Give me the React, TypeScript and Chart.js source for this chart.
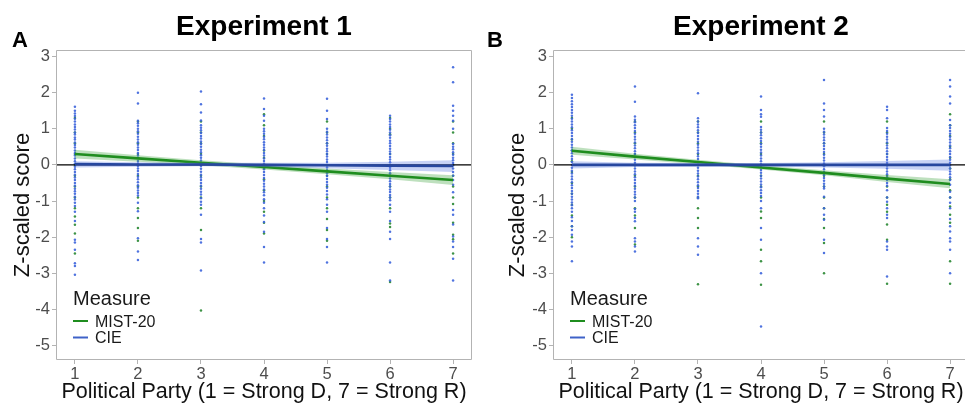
import React, { useEffect, useRef } from "react";
import { Chart, registerables } from "chart.js";

Chart.register(...registerables);

// ---------- data ----------
const xTicks = [1, 2, 3, 4, 5, 6, 7];
const yTicks = [-5, -4, -3, -2, -1, 0, 1, 2, 3];
const xLimits = [0.7, 7.3];
const yLimits = [-5.4, 3.18];
const titles = ["Experiment 1", "Experiment 2"];
const panelLetters = ["A", "B"];
const xAxisTitle = "Political Party (1 = Strong D, 7 = Strong R)";
const yAxisTitle = "Z-scaled score";
const legendTitle = "Measure";
const seriesNames = ["MIST-20", "CIE"];

// Experiment 1 - CIE points per party level (1..7)
const cieExp1 = [
  [1.61, 1.5, 1.42, 1.35, 1.28, 1.2, 1.12, 1.05, 0.98, 0.9, 0.84, 0.76, 0.7, 0.62, 0.55, 0.48, 0.4, 0.33, 0.26, 0.18, 0.1, 0.03, -0.05, -0.12, -0.2, -0.27, -0.35, -0.42, -0.5, -0.58, -0.66, -0.73, -0.8, -0.88, -0.96, -1.05, -1.14, -1.3, -1.55, -2.07, -2.15, -2.35, -2.72, -2.8, -3.04],
  [2.0, 1.7, 1.22, 1.15, 1.08, 1.0, 0.93, 0.86, 0.78, 0.7, 0.63, 0.56, 0.48, 0.41, 0.33, 0.26, 0.19, 0.11, 0.04, -0.03, -0.1, -0.17, -0.25, -0.33, -0.4, -0.48, -0.56, -0.63, -0.71, -0.78, -0.85, -1.05, -1.28, -2.03, -2.4, -2.63],
  [2.03, 1.68, 1.45, 1.23, 1.1, 1.03, 0.96, 0.88, 0.8, 0.73, 0.65, 0.58, 0.5, 0.42, 0.35, 0.27, 0.2, 0.12, 0.05, -0.03, -0.11, -0.19, -0.27, -0.35, -0.42, -0.5, -0.58, -0.66, -0.74, -0.82, -0.92, -1.02, -1.1, -1.38, -2.05, -2.15, -2.92],
  [1.84, 1.55, 1.36, 1.22, 1.0, 0.93, 0.86, 0.78, 0.71, 0.63, 0.56, 0.48, 0.41, 0.33, 0.26, 0.18, 0.11, 0.03, -0.04, -0.12, -0.2, -0.28, -0.36, -0.44, -0.52, -0.6, -0.68, -0.76, -0.84, -0.95, -1.05, -1.2, -1.4, -1.58, -1.85, -2.27, -2.7],
  [1.83, 1.5, 1.27, 1.0, 0.92, 0.84, 0.76, 0.68, 0.6, 0.53, 0.45, 0.38, 0.3, 0.23, 0.15, 0.08, 0.0, -0.07, -0.15, -0.23, -0.31, -0.39, -0.47, -0.55, -0.63, -0.72, -0.82, -0.95, -1.1, -1.3, -1.75, -2.05, -2.27, -2.7],
  [1.36, 1.27, 1.2, 1.12, 1.05, 0.97, 0.9, 0.82, 0.75, 0.67, 0.6, 0.52, 0.45, 0.37, 0.3, 0.22, 0.15, 0.07, 0.0, -0.08, -0.15, -0.23, -0.3, -0.38, -0.45, -0.53, -0.6, -0.68, -0.75, -0.83, -0.9, -0.98, -1.1, -1.3, -1.55, -1.85, -2.05, -2.7, -3.2],
  [2.7, 2.29, 1.64, 1.5, 1.36, 1.22, 1.0, 0.58, 0.5, 0.43, 0.35, 0.28, 0.2, 0.13, 0.05, -0.02, -0.1, -0.2, -0.3, -0.42, -0.55, -0.76, -1.25, -1.38, -1.65, -1.98, -2.12, -2.27, -2.6, -3.2],
];
// Experiment 1 - MIST-20 points
const mistExp1 = [
  [1.3, 0.9, 0.6, 0.3, 0.0, -0.3, -0.6, -0.9, -1.2, -1.43, -1.66, -1.9, -2.45],
  [1.2, 0.9, 0.6, 0.3, 0.0, -0.3, -0.6, -0.9, -1.2, -1.47, -1.75, -2.1],
  [1.2, 0.9, 0.6, 0.3, 0.0, -0.3, -0.6, -0.9, -1.2, -1.8, -4.03],
  [1.4, 1.1, 0.8, 0.4, 0.2, -0.1, -0.4, -0.7, -1.0, -1.3, -1.6, -1.9],
  [1.2, 0.9, 0.6, 0.3, 0.0, -0.3, -0.6, -0.9, -1.2, -1.5, -1.8, -2.1],
  [1.3, 1.0, 0.85, 0.3, 0.0, -0.3, -0.6, -0.9, -1.2, -1.62, -1.72, -3.24],
  [1.2, 0.9, 0.6, 0.3, 0.0, -0.3, -0.6, -0.9, -1.08, -1.6, -1.93, -2.06, -2.45],
];
// Experiment 2 - CIE points
const cieExp2 = [
  [1.94, 1.85, 1.76, 1.68, 1.6, 1.52, 1.44, 1.36, 1.28, 1.2, 1.12, 1.04, 0.96, 0.88, 0.8, 0.72, 0.64, 0.56, 0.48, 0.4, 0.32, 0.24, 0.16, 0.08, 0.0, -0.08, -0.16, -0.24, -0.32, -0.4, -0.48, -0.56, -0.64, -0.72, -0.8, -0.88, -0.96, -1.04, -1.12, -1.2, -1.3, -1.45, -1.55, -1.7, -1.8, -1.93, -2.12, -2.26, -2.67],
  [2.17, 1.75, 1.34, 1.25, 1.18, 1.1, 1.02, 0.94, 0.86, 0.78, 0.7, 0.62, 0.54, 0.46, 0.38, 0.3, 0.22, 0.14, 0.06, -0.02, -0.1, -0.18, -0.26, -0.34, -0.42, -0.5, -0.58, -0.66, -0.74, -0.82, -0.9, -1.0, -1.22, -1.3, -1.47, -1.56, -2.03, -2.12, -2.26, -2.4],
  [1.98, 1.29, 1.2, 1.12, 1.04, 0.96, 0.88, 0.8, 0.72, 0.64, 0.56, 0.48, 0.4, 0.32, 0.24, 0.16, 0.08, 0.0, -0.08, -0.16, -0.24, -0.32, -0.4, -0.48, -0.56, -0.64, -0.72, -0.8, -0.88, -0.92, -2.03, -2.26, -2.49],
  [1.89, 1.52, 1.4, 1.33, 1.05, 0.97, 0.9, 0.82, 0.74, 0.66, 0.58, 0.5, 0.42, 0.34, 0.26, 0.18, 0.1, 0.02, -0.06, -0.14, -0.22, -0.3, -0.38, -0.46, -0.54, -0.62, -0.7, -0.78, -0.86, -1.0, -1.2, -1.75, -2.07, -3.0, -4.47],
  [2.35, 1.7, 1.52, 1.34, 1.0, 0.92, 0.84, 0.76, 0.68, 0.6, 0.52, 0.44, 0.36, 0.28, 0.2, 0.12, 0.04, -0.04, -0.12, -0.2, -0.28, -0.36, -0.44, -0.52, -0.6, -0.65, -0.88, -1.2, -1.38, -1.52, -2.07, -2.44],
  [1.61, 1.52, 1.29, 1.02, 0.94, 0.86, 0.78, 0.7, 0.62, 0.54, 0.46, 0.38, 0.3, 0.22, 0.14, 0.06, -0.02, -0.1, -0.18, -0.26, -0.34, -0.42, -0.5, -0.58, -0.7, -0.9, -1.02, -1.2, -1.38, -1.47, -2.12, -2.26, -2.35, -3.09],
  [2.35, 2.17, 1.89, 1.7, 1.24, 1.1, 1.02, 0.94, 0.86, 0.78, 0.7, 0.62, 0.54, 0.46, 0.38, 0.3, 0.22, 0.14, 0.06, -0.02, -0.1, -0.18, -0.26, -0.34, -0.42, -0.55, -0.74, -0.9, -1.05, -1.2, -1.5, -1.7, -1.84, -2.03, -2.12, -2.35, -3.0],
];
// Experiment 2 - MIST-20 points
const mistExp2 = [
  [1.3, 1.0, 0.7, 0.4, 0.1, -0.2, -0.5, -0.8, -1.1, -1.4, -1.7, -2.0],
  [1.2, 0.9, 0.6, 0.3, 0.0, -0.3, -0.6, -0.9, -1.2, -1.4, -1.75, -2.2],
  [1.2, 0.9, 0.6, 0.3, 0.0, -0.3, -0.6, -0.9, -1.2, -1.47, -1.75, -3.3],
  [1.2, 0.9, 0.6, 0.3, 0.0, -0.3, -0.6, -0.9, -1.29, -1.47, -2.35, -2.67, -3.32],
  [1.2, 0.9, 0.6, 0.3, 0.0, -0.3, -0.6, -0.9, -1.2, -1.5, -1.75, -2.16, -3.0],
  [1.2, 0.9, 0.6, 0.3, 0.0, -0.3, -0.6, -0.9, -1.1, -1.3, -1.65, -2.07, -3.29],
  [1.4, 1.1, 0.8, 0.5, 0.2, -0.1, -0.4, -0.7, -0.9, -1.15, -1.38, -1.6, -2.67, -3.29],
];

// Linear fits with 95% bands, evaluated at party = 1..7
const fitX = [1, 2, 3, 4, 5, 6, 7];
const mistFit1 = [0.3, 0.18, 0.06, -0.06, -0.18, -0.3, -0.42];
const mistUpper1 = [0.42, 0.27, 0.13, 0.01, -0.1, -0.2, -0.29];
const mistLower1 = [0.18, 0.09, -0.01, -0.13, -0.26, -0.4, -0.56];
const cieFit1 = [0.02, 0.01, 0.01, 0.0, -0.01, -0.02, -0.03];
const cieUpper1 = [0.1, 0.07, 0.06, 0.06, 0.06, 0.09, 0.13];
const cieLower1 = [-0.07, -0.05, -0.04, -0.06, -0.09, -0.14, -0.2];
const mistFit2 = [0.39, 0.23, 0.08, -0.07, -0.22, -0.38, -0.53];
const mistUpper2 = [0.5, 0.31, 0.14, -0.01, -0.15, -0.28, -0.4];
const mistLower2 = [0.28, 0.15, 0.02, -0.13, -0.29, -0.47, -0.65];
const cieFit2 = [0.0, 0.0, 0.0, 0.0, 0.0, 0.0, 0.0];
const cieUpper2 = [0.1, 0.06, 0.05, 0.05, 0.07, 0.11, 0.15];
const cieLower2 = [-0.1, -0.06, -0.05, -0.05, -0.07, -0.11, -0.16];

// ---------- styling ----------
const FONT = '"Liberation Sans", Arial, Helvetica, sans-serif';
const GREEN_LINE = "#1f8d1f";
const BLUE_LINE = "#27479f";
const GREEN_BAND = "rgba(70,165,70,0.35)";
const BLUE_BAND = "rgba(95,125,225,0.35)";
const GREEN_PT = "rgba(40,135,50,0.9)";
const BLUE_PT = "rgba(60,100,220,0.9)";
const AXIS_GRAY = "#b3b3b3";
const TICK_TEXT = "#4d4d4d";

const panels = [
  {
    title: titles[0], letter: panelLetters[0],
    cie: cieExp1, mist: mistExp1,
    mistFit: mistFit1, mistUp: mistUpper1, mistLo: mistLower1,
    cieFit: cieFit1, cieUp: cieUpper1, cieLo: cieLower1,
    left: 0, width: 480, yAxisW: 56, rightPad: 8, letterX: 12, yTitlePad: 9.5,
  },
  {
    title: titles[1], letter: panelLetters[1],
    cie: cieExp2, mist: mistExp2,
    mistFit: mistFit2, mistUp: mistUpper2, mistLo: mistLower2,
    cieFit: cieFit2, cieUp: cieUpper2, cieLo: cieLower2,
    left: 480, width: 500, yAxisW: 73, rightPad: 11, letterX: 7, yTitlePad: 25,
  },
];

const H = 403;

function buildConfig(p: any) {
  const toPts = (cols: number[][]) =>
    cols.flatMap((col, i) => col.map((v) => ({ x: xTicks[i], y: v })));
  const line = (ys: number[]) => ys.map((y, i) => ({ x: fitX[i], y }));
  const base = { showLine: true, pointRadius: 0, pointHoverRadius: 0 };

  const decor = {
    id: "decor" + p.letter,
    afterDraw(chart: any) {
      const { ctx, chartArea: a, width } = chart;
      ctx.save();
      ctx.strokeStyle = AXIS_GRAY;
      ctx.lineWidth = 1;
      ctx.beginPath();
      ctx.moveTo(a.right - 0.5, a.top + 0.5);
      ctx.lineTo(a.left + 0.5, a.top + 0.5);
      ctx.lineTo(a.left + 0.5, a.bottom - 0.5);
      ctx.lineTo(a.right - 0.5, a.bottom - 0.5);
      if (a.right < width) ctx.lineTo(a.right - 0.5, a.top + 0.5);
      ctx.stroke();
      ctx.fillStyle = "#000";
      ctx.textAlign = "left";
      ctx.textBaseline = "alphabetic";
      ctx.font = `bold 22px ${FONT}`;
      ctx.fillText(p.letter, p.letterX, 47);
      // legend
      const lx = a.left + 17;
      ctx.fillStyle = "#1a1a1a";
      ctx.font = `20px ${FONT}`;
      ctx.fillText(legendTitle, lx, 305);
      ctx.font = `16px ${FONT}`;
      ctx.fillText(seriesNames[0], lx + 22, 327);
      ctx.fillText(seriesNames[1], lx + 22, 343);
      ctx.lineWidth = 2;
      ctx.strokeStyle = GREEN_LINE;
      ctx.beginPath();
      ctx.moveTo(lx, 321);
      ctx.lineTo(lx + 15, 321);
      ctx.stroke();
      ctx.strokeStyle = "#3f62c8";
      ctx.beginPath();
      ctx.moveTo(lx, 337.5);
      ctx.lineTo(lx + 15, 337.5);
      ctx.stroke();
      ctx.restore();
    },
  };

  return {
    type: "scatter",
    data: {
      datasets: [
        { ...base, label: seriesNames[1], data: line(p.cieFit), borderColor: BLUE_LINE, borderWidth: 2.6, fill: false, order: 0 },
        { ...base, label: "cie upper", data: line(p.cieUp), borderWidth: 0, borderColor: "rgba(0,0,0,0)", backgroundColor: BLUE_BAND, fill: "+1", order: 1 },
        { ...base, label: "cie lower", data: line(p.cieLo), borderWidth: 0, borderColor: "rgba(0,0,0,0)", fill: false, order: 2 },
        { ...base, label: seriesNames[0], data: line(p.mistFit), borderColor: GREEN_LINE, borderWidth: 2.6, fill: false, order: 3 },
        { ...base, label: "mist upper", data: line(p.mistUp), borderWidth: 0, borderColor: "rgba(0,0,0,0)", backgroundColor: GREEN_BAND, fill: "+1", order: 4 },
        { ...base, label: "mist lower", data: line(p.mistLo), borderWidth: 0, borderColor: "rgba(0,0,0,0)", fill: false, order: 5 },
        { ...base, label: "zero", data: [{ x: xLimits[0], y: 0 }, { x: xLimits[1], y: 0 }], borderColor: "#000", borderWidth: 1.1, fill: false, order: 6 },
        { label: "CIE points", data: toPts(p.cie), showLine: false, pointRadius: 1.25, pointBorderWidth: 0, pointBackgroundColor: BLUE_PT, backgroundColor: BLUE_PT, borderWidth: 0, order: 7 },
        { label: "MIST points", data: toPts(p.mist), showLine: false, pointRadius: 1.25, pointBorderWidth: 0, pointBackgroundColor: GREEN_PT, backgroundColor: GREEN_PT, borderWidth: 0, order: 8 },
      ],
    },
    options: {
      animation: false,
      responsive: false,
      maintainAspectRatio: false,
      events: [],
      layout: { padding: { top: 0, left: 0, right: p.rightPad, bottom: 0 } },
      plugins: {
        legend: { display: false },
        tooltip: { enabled: false },
        title: {
          display: true,
          text: p.title,
          fullSize: false,
          color: "#000",
          font: { family: FONT, size: 28, weight: "bold", lineHeight: 1.2 },
          padding: { top: 10, bottom: 6.4 },
        },
      },
      scales: {
        x: {
          type: "linear",
          min: xLimits[0],
          max: xLimits[1],
          afterBuildTicks: (s: any) => {
            s.ticks = xTicks.map((v) => ({ value: v }));
          },
          afterFit: (s: any) => {
            s.height = 43;
          },
          ticks: { color: TICK_TEXT, font: { family: FONT, size: 16.5 }, padding: 1, maxRotation: 0, autoSkip: false },
          grid: { display: true, drawOnChartArea: false, drawTicks: true, tickLength: 4, color: AXIS_GRAY },
          border: { display: false },
          title: {
            display: true,
            text: xAxisTitle,
            color: "#111",
            font: { family: FONT, size: 21.5, lineHeight: 1 },
            padding: { top: 0, bottom: 0 },
          },
        },
        y: {
          type: "linear",
          min: yLimits[0],
          max: yLimits[1],
          afterBuildTicks: (s: any) => {
            s.ticks = yTicks.map((v) => ({ value: v }));
          },
          afterFit: (s: any) => {
            s.width = p.yAxisW;
          },
          ticks: { color: TICK_TEXT, font: { family: FONT, size: 16.5 }, padding: 2, autoSkip: false },
          grid: { display: true, drawOnChartArea: false, drawTicks: true, tickLength: 4, color: AXIS_GRAY },
          border: { display: false },
          title: {
            display: true,
            text: yAxisTitle,
            color: "#111",
            font: { family: FONT, size: 22, lineHeight: 1.2 },
            padding: { top: p.yTitlePad, bottom: 0 },
          },
        },
      },
    },
    plugins: [decor],
  };
}

function Panel({ p }: { p: any }) {
  const ref = useRef<HTMLCanvasElement>(null);
  useEffect(() => {
    if (!ref.current) return;
    const chart = new Chart(ref.current, buildConfig(p) as any);
    return () => chart.destroy();
  }, [p]);
  return (
    <canvas
      ref={ref}
      width={p.width}
      height={H}
      style={{ position: "absolute", left: p.left, top: 0, width: p.width, height: H }}
    />
  );
}

export default function App() {
  return (
    <div
      style={{
        position: "fixed",
        left: 0,
        top: 0,
        width: 965,
        height: H,
        overflow: "hidden",
        background: "#fff",
      }}
    >
      {panels.map((p) => (
        <Panel key={p.letter} p={p} />
      ))}
    </div>
  );
}
